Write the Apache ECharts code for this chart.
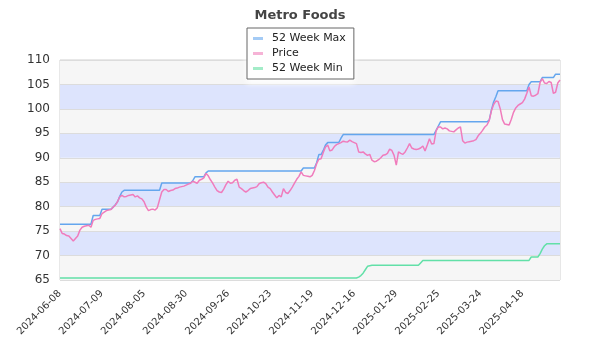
<!DOCTYPE html>
<html><head><meta charset="utf-8">
<script src="https://cdn.jsdelivr.net/npm/echarts@6/dist/echarts.min.js"></script>
<style>html,body{margin:0;padding:0;background:#fff}#c{width:600px;height:350px}</style>
</head><body><div id="c"></div>
<script>
const title = 'Metro Foods';
const tickLabels = ['2024-06-08','2024-07-09','2024-08-05','2024-08-30','2024-09-26','2024-10-23','2024-11-19','2024-12-16','2025-01-29','2025-02-25','2025-03-24','2025-04-18'];
const pointsPerLabel = 19;
const price = [
75.5,74.5,74.4,74.1,74.0,73.5,73.0,73.5,74.0,75.2,
75.8,76.0,76.1,76.2,75.8,77.2,77.4,77.5,77.6,78.6,
78.9,79.2,79.3,79.4,79.9,80.3,81.0,82.0,82.3,82.0,
82.1,82.3,82.4,82.5,82.0,82.2,81.8,81.6,81.0,79.9,
79.2,79.4,79.5,79.3,79.8,81.4,83.0,83.5,83.5,83.1,
83.3,83.4,83.7,83.8,84.0,84.1,84.2,84.4,84.6,84.8,
85.2,85.0,84.8,85.4,85.6,85.9,86.8,86.3,85.5,84.8,
84.0,83.3,83.0,82.9,83.6,84.5,85.2,84.8,84.9,85.4,
85.6,84.0,83.7,83.3,83.0,83.3,83.7,83.8,83.9,84.1,
84.7,84.9,85.0,84.7,84.0,83.7,83.0,82.4,81.8,82.3,
82.0,83.7,82.9,82.7,83.3,84.0,84.8,85.6,86.2,87.1,
86.4,86.3,86.2,86.1,86.4,87.4,88.8,89.7,89.8,91.1,
92.2,92.6,91.4,91.6,92.3,92.7,92.9,93.1,93.4,93.3,
93.25,93.6,93.3,93.1,92.9,91.2,91.1,91.2,90.8,90.5,
90.7,89.5,89.2,89.3,89.6,90.0,90.5,90.6,90.9,91.75,
91.5,90.5,88.5,91.2,90.9,90.7,91.2,92.0,92.9,92.0,
91.8,91.7,91.8,92.0,92.4,91.4,92.6,93.9,92.8,92.9,
95.5,96.3,96.3,95.9,96.1,95.9,95.5,95.4,95.3,95.7,
96.1,96.3,93.5,93.0,93.2,93.3,93.4,93.5,93.7,94.5,
95.0,95.6,96.3,96.7,97.6,99.6,100.9,101.6,101.5,100.0,
97.8,96.9,96.8,96.7,97.9,99.3,100.2,100.7,101.0,101.3,
102.0,103.2,104.5,102.7,102.6,102.8,103.1,105.4,106.2,105.3,
105.2,105.6,105.4,103.2,103.4,105.3,105.9
];
// run-length pairs [value, count]
const max52Runs = [[76.4,15],[78.2,4],[79.45,5],[79.9,1],[80.4,1],[81.0,1],[82.1,1],[83.0,1],[83.35,17],[84.85,14],[85.3,1],[86.1,5],[86.9,1],[87.3,43],[87.9,6],[89.0,1],[90.65,2],[91.5,1],[92.6,1],[93.1,6],[94.0,1],[94.75,42],[95.6,1],[96.5,1],[97.35,22],[97.7,1],[99.8,1],[101.4,1],[102.5,1],[103.7,14],[105.0,1],[105.55,5],[106.4,6],[107.1,3]];
const min52Runs = [[65.4,135],[65.6,1],[65.9,1],[66.4,1],[67.1,1],[67.8,1],[67.9,1],[68.0,22],[68.5,1],[69.0,49],[69.7,4],[70.4,1],[71.3,1],[72.0,1],[72.4,7]];
const yMin = 65, yMax = 110, yStep = 5;

function expand(runs){const out=[];runs.forEach(([v,c])=>{for(let k=0;k<c;k++)out.push(v);});return out;}
const max52 = expand(max52Runs);
const min52 = expand(min52Runs);
const categories = price.map((_, i) => {
  const li = Math.floor(i / pointsPerLabel), r = i % pointsPerLabel;
  return r === 0 && tickLabels[li] ? tickLabels[li] : (tickLabels[li] || 'end') + '+' + r;
});

const FONT = 'DejaVu Sans';
const chart = echarts.init(document.getElementById('c'), null, {renderer:'canvas'});
chart.setOption({
  animation:false,
  backgroundColor:'#fff',
  textStyle:{fontFamily:FONT},
  title:{text:title,left:'center',top:4,textStyle:{fontFamily:FONT,fontSize:13,fontWeight:'bold',color:'#444'}},
  legend:{
    orient:'vertical',left:247,top:28,
    backgroundColor:'#fff',borderColor:'#666',borderWidth:1,padding:[5,8,5,6],
    shadowColor:'rgba(255,255,255,1)',shadowBlur:6,shadowOffsetY:4,
    itemGap:4,itemWidth:10,itemHeight:3,icon:'rect',
    textStyle:{fontFamily:FONT,fontSize:11,color:'#222',padding:[0,0,0,4]},
    data:[
      {name:'52 Week Max',itemStyle:{color:'#a4cbf5'}},
      {name:'Price',itemStyle:{color:'#f6b3d6'}},
      {name:'52 Week Min',itemStyle:{color:'#a3ecc8'}}
    ]
  },
  grid:{left:60,right:40,top:60,bottom:70,show:true,borderColor:'#d0d0d0',borderWidth:1},
  xAxis:{
    type:'category',data:categories,boundaryGap:false,
    axisLine:{show:false},axisTick:{show:false},
    axisLabel:{interval:pointsPerLabel-1,rotate:45,fontSize:10,color:'#333',fontFamily:FONT,margin:12,
      formatter:v=>v.indexOf('+')>=0?'':v},
    splitLine:{show:false}
  },
  yAxis:{
    type:'value',min:yMin,max:yMax,interval:yStep,
    axisLine:{show:false},axisTick:{show:false},
    axisLabel:{fontSize:12,color:'#333',fontFamily:FONT,margin:10},
    splitLine:{show:true,lineStyle:{color:'#dcdcdc',width:1}},
    splitArea:{show:true,areaStyle:{color:['#f6f6f6','#dde4fd']}}
  },
  series:[
    {name:'52 Week Max',type:'line',data:max52,showSymbol:false,lineStyle:{color:'#64a6ee',width:1.5},itemStyle:{color:'#64a6ee'}},
    {name:'Price',type:'line',data:price,showSymbol:false,lineStyle:{color:'#f07cbc',width:1.5},itemStyle:{color:'#f07cbc'}},
    {name:'52 Week Min',type:'line',data:min52,showSymbol:false,lineStyle:{color:'#62e0a8',width:1.5},itemStyle:{color:'#62e0a8'}}
  ]
});
</script></body></html>
